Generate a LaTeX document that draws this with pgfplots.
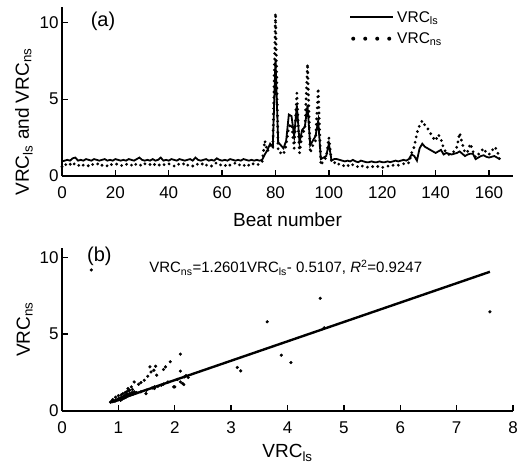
\documentclass[border=0pt]{standalone}
\usepackage{fontspec}
\setmainfont{Liberation Sans}
\usepackage{pgfplots}
\pgfplotsset{compat=1.18}
\usepackage{pgfplotstable}

% beat number, VRC_ls, VRC_ns
\pgfplotstableread[row sep=\\]{
beat ls ns\\
0 0.95 0.60\\ 1 1.00 0.80\\ 2 1.05 0.65\\ 3 1.00 0.75\\ 4 1.15 0.90\\
5 1.20 0.70\\ 6 1.00 0.65\\ 7 1.05 0.80\\ 8 1.00 0.70\\ 9 1.10 0.75\\
10 1.05 0.65\\ 11 1.00 0.80\\ 12 1.10 0.70\\ 13 1.05 0.75\\ 14 1.00 0.85\\
15 1.05 0.70\\ 16 1.10 0.75\\ 17 1.00 0.65\\ 18 1.05 0.80\\ 19 1.00 0.70\\
20 1.10 0.75\\ 21 1.05 0.80\\ 22 1.00 0.70\\ 23 1.05 0.65\\ 24 1.00 0.75\\
25 1.10 0.80\\ 26 1.05 0.70\\ 27 1.00 0.85\\ 28 1.10 0.70\\ 29 1.20 0.75\\
30 1.05 0.65\\ 31 1.00 0.80\\ 32 1.05 0.70\\ 33 1.00 0.75\\ 34 1.10 0.85\\
35 1.00 0.70\\ 36 1.05 0.65\\ 37 1.20 0.80\\ 38 1.00 0.75\\ 39 1.05 0.70\\
40 1.00 0.80\\ 41 1.10 0.70\\ 42 1.05 0.65\\ 43 1.00 0.80\\ 44 1.10 0.75\\
45 1.05 0.70\\ 46 1.00 0.85\\ 47 1.05 0.70\\ 48 1.10 0.75\\ 49 1.00 0.65\\
50 1.20 0.80\\ 51 1.05 0.75\\ 52 1.00 0.70\\ 53 1.05 0.85\\ 54 1.10 0.70\\
55 1.00 0.75\\ 56 1.05 0.65\\ 57 1.00 0.80\\ 58 1.15 0.85\\ 59 1.05 0.70\\
60 1.00 0.75\\ 61 1.05 0.65\\ 62 1.00 0.80\\ 63 1.10 0.70\\ 64 1.05 0.75\\
65 1.00 0.85\\ 66 1.05 0.70\\ 67 1.00 0.75\\ 68 1.10 0.65\\ 69 1.05 0.80\\
70 1.00 0.70\\ 71 1.05 0.85\\ 72 1.00 0.75\\ 73 1.05 0.70\\ 74 1.00 0.80\\
75 1.05 0.90\\ 76 1.40 2.30\\ 77 1.70 1.60\\ 78 2.10 2.00\\ 79 1.90 1.80\\
80 7.60 10.60\\ 81 2.20 1.60\\ 82 2.00 1.50\\ 83 1.80 1.40\\ 84 2.30 2.00\\
85 4.00 3.20\\ 86 3.90 3.40\\ 87 2.60 1.80\\ 88 4.60 5.40\\ 89 2.20 1.50\\
90 3.00 2.80\\ 91 3.20 3.00\\ 92 4.60 7.30\\ 93 2.00 1.50\\ 94 2.30 2.00\\
95 2.60 2.30\\ 96 3.60 5.70\\ 97 1.10 0.70\\ 98 1.20 1.00\\ 99 1.30 1.20\\
100 2.10 2.50\\ 101 1.00 0.90\\ 102 1.10 0.90\\ 103 1.10 0.70\\ 104 1.05 0.80\\
105 1.00 0.75\\ 106 0.95 0.60\\ 107 1.00 0.70\\ 108 0.95 0.60\\ 109 1.05 0.75\\
110 0.95 0.65\\ 111 0.90 0.60\\ 112 1.00 0.70\\ 113 0.95 0.60\\ 114 0.90 0.55\\
115 0.90 0.60\\ 116 0.95 0.65\\ 117 0.90 0.55\\ 118 0.90 0.60\\ 119 0.95 0.65\\
120 0.90 0.55\\ 121 0.90 0.60\\ 122 0.95 0.65\\ 123 0.90 0.60\\ 124 0.95 0.70\\
125 1.00 0.65\\ 126 0.95 0.70\\ 127 1.00 0.75\\ 128 1.05 0.80\\ 129 1.00 0.90\\
130 1.10 0.85\\ 131 1.40 1.50\\ 132 1.30 1.90\\ 133 1.00 2.80\\ 134 1.80 3.30\\
135 2.10 3.60\\ 136 1.90 3.30\\ 137 1.80 3.10\\ 138 1.70 2.80\\ 139 1.60 2.50\\
140 1.50 2.30\\ 141 1.60 2.70\\ 142 1.70 2.40\\ 143 1.40 1.80\\ 144 1.50 1.50\\
145 1.45 1.40\\ 146 1.40 1.50\\ 147 1.45 1.60\\ 148 1.50 1.90\\ 149 1.60 2.80\\
150 1.45 2.10\\ 151 1.30 1.50\\ 152 1.40 1.60\\ 153 1.45 2.10\\ 154 1.45 1.60\\
155 1.10 1.20\\ 156 1.20 1.40\\ 157 1.30 1.60\\ 158 1.35 1.80\\ 159 1.25 1.50\\
160 1.20 1.40\\ 161 1.25 1.60\\ 162 1.30 1.90\\ 163 1.20 1.70\\ 164 1.10 1.10\\
}\vrcseries

\pgfplotsset{
  panel/.style={
    scale only axis,
    axis x line*=bottom,
    axis y line*=left,
    axis line style={line width=2pt},
    tick align=inside,
    major tick length=6pt,
    tick style={line width=1.3pt,black},
    ticklabel style={font=\fontsize{17}{20}\selectfont},
    xticklabel style={yshift=-7pt},
    xlabel style={yshift=-7pt},
    label style={font=\fontsize{19}{22}\selectfont},
    /pgf/number format/assume math mode=true,
    clip=false,
  },
  nsdots/.style={black,line width=3.1pt,line cap=round,dash pattern=on 0pt off 5.5pt},
}

\begin{document}
\begin{tikzpicture}
\useasboundingbox (0pt,0pt) rectangle (518pt,466pt);

\begin{axis}[
    panel,
    at={(62pt,290pt)}, anchor=south west,
    width=451pt, height=169pt,
    xmin=0, xmax=169, ymin=0, ymax=11,
    xtick={0,20,...,160}, ytick={0,5,10},
    xlabel={Beat number},
    ylabel={VRC\textsubscript{ls} and VRC\textsubscript{ns}},
    ylabel style={at={(ticklabel cs:0.32)}},
    legend style={draw=none,fill=none,at={(rel axis cs:0.63,1.0)},anchor=north west,
      font=\fontsize{15.5}{18}\selectfont,row sep=5pt},
    legend cell align=left,
]
\addplot[black,line width=1.8pt,
  legend image code/.code={\draw[black,line width=1.8pt] (0pt,0pt) -- (43pt,0pt);}]
  table[x=beat,y=ls] {\vrcseries};
\addlegendentry{VRC\textsubscript{ls}}
\addplot[nsdots,
  legend image code/.code={\draw[black,line width=4pt,line cap=round,dash pattern=on 0pt off 12pt] (3pt,0pt) -- (43pt,0pt);}]
  table[x=beat,y=ns] {\vrcseries};
\addlegendentry{VRC\textsubscript{ns}}
\node[font=\fontsize{20}{23}\selectfont] at (rel axis cs:0.091,0.917) {(a)};
\end{axis}

\begin{axis}[
    panel,
    at={(62pt,55pt)}, anchor=south west,
    width=451pt, height=163pt,
    xmin=0, xmax=8, ymin=0, ymax=10.6,
    xtick={0,1,...,8}, ytick={0,5,10},
    xlabel={VRC\textsubscript{ls}},
    xlabel style={yshift=3pt},
    ylabel={VRC\textsubscript{ns}},
]
\addplot[only marks,mark=*,mark size=1.4pt,black] coordinates {
(0.86,0.58) (0.88,0.62) (0.90,0.60) (0.92,0.66) (0.94,0.63) (0.95,0.70)
(0.97,0.68) (0.98,0.74) (1.00,0.72) (1.00,0.80) (1.02,0.76) (1.03,0.85)
(1.04,0.70) (1.05,0.82) (1.06,0.90) (1.07,0.78) (1.08,0.86) (1.09,0.95)
(1.10,0.84) (1.11,1.00) (1.12,0.90) (1.13,0.88) (1.14,1.05) (1.15,0.95)
(1.16,1.10) (1.18,1.00) (1.20,1.15) (1.22,1.05) (1.24,1.20) (1.26,1.10)
(1.28,1.25) (1.30,1.15) (1.32,1.20) (0.95,0.90) (1.00,1.00) (1.05,1.05)
(0.90,0.75) (1.12,1.20) (1.08,1.13) (1.17,1.30) (1.20,1.35) (1.25,1.40)
(1.14,1.24) (1.17,1.46) (1.23,1.57) (1.28,1.89) (1.36,1.74) (1.40,1.85)
(1.46,2.00) (1.52,2.26) (1.56,2.87) (1.58,2.54) (1.63,2.65) (1.66,2.91)
(1.68,2.33) (1.80,2.70) (1.835,2.87) (1.92,3.20) (2.10,3.70) (2.10,2.59)
(2.14,1.79) (2.17,2.22) (2.24,2.18) (2.10,1.89) (1.98,1.57) (1.88,1.89)
(1.76,1.68) (1.64,1.46) (1.49,1.13) (1.40,1.25) (1.50,1.35) (1.60,1.50)
(1.64,1.57) (1.70,1.60) (1.80,1.75) (2.00,1.57) (2.05,2.05) (2.16,1.72)
(2.20,2.30)
(0.52,9.17) (3.11,2.83) (3.17,2.61) (3.64,5.80) (3.89,3.63) (4.06,3.15)
(4.58,7.33) (4.65,5.41) (7.59,6.45)
};
\addplot[black,line width=2.4pt] coordinates {(0.86,0.573) (7.59,9.053)};
\node[font=\fontsize{20}{23}\selectfont] at (rel axis cs:0.083,0.947) {(b)};
\node[font=\fontsize{15}{18}\selectfont] at (rel axis cs:0.496,0.877)
  {VRC\textsubscript{ns}=1.2601VRC\textsubscript{ls}- 0.5107, \textit{R}\textsuperscript{2}=0.9247};
\end{axis}
\end{tikzpicture}
\end{document}
